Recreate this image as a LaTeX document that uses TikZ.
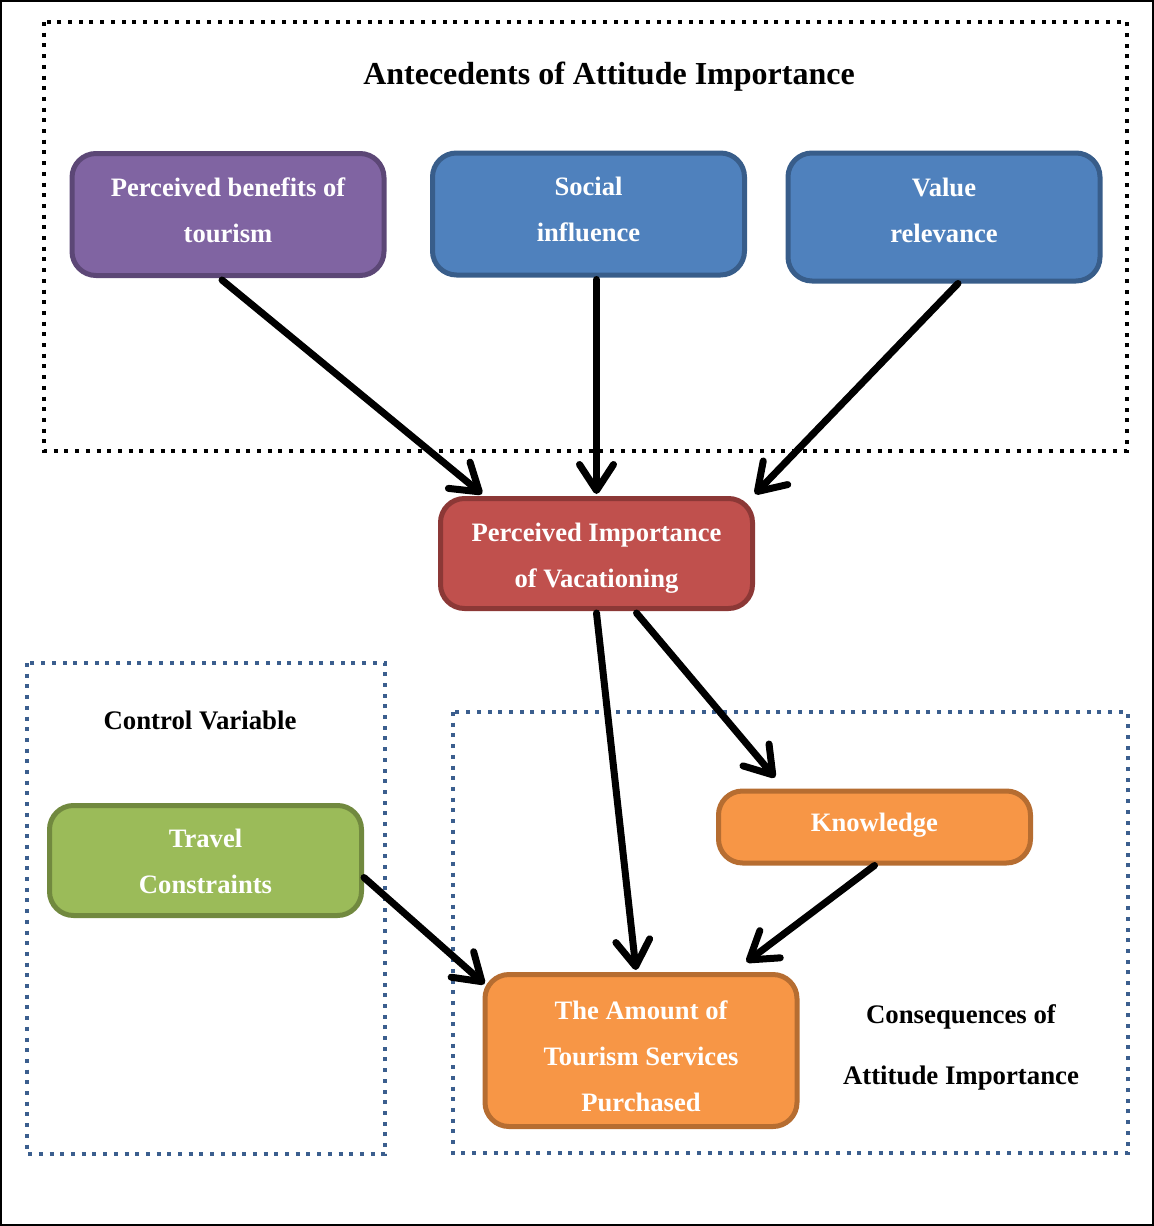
\documentclass[tikz,border=0pt]{standalone}
\usepackage{fontspec}
\setmainfont{Liberation Serif}
\usetikzlibrary{arrows.meta,calc}
\definecolor{purpfill}{HTML}{8064A2}\definecolor{purpline}{HTML}{5C4776}
\definecolor{bluefill}{HTML}{4F81BD}\definecolor{blueline}{HTML}{385D8A}
\definecolor{redfill}{HTML}{C0504D}\definecolor{redline}{HTML}{8C3836}
\definecolor{greenfill}{HTML}{9BBB59}\definecolor{greenline}{HTML}{71893F}
\definecolor{orangefill}{HTML}{F79646}\definecolor{orangeline}{HTML}{B66D31}
\definecolor{groupblue}{HTML}{3B5E8E}
% centred block of lines, raised by #1 inside its box
\newcommand\boxlines[2]{\raisebox{#1}[\height][\depth]{\begin{tabular}{@{}c@{}}#2\end{tabular}}}
\begin{document}
\begin{tikzpicture}[x=0.5pt,y=-0.5pt,
  box/.style={draw,line width=2.5pt,rounded corners=12pt,minimum width=156pt,
    text=white,font=\fontsize{13.3}{23}\selectfont\bfseries,inner sep=0pt},
  group/.style={line width=2pt,dash pattern=on 2pt off 3.35pt},
  label/.style={align=center,font=\fontsize{13.4}{30.5}\selectfont\bfseries},
  link/.style={line width=3.5pt,line cap=round,
    -{Straight Barb[length=13pt,width=17pt,line cap=round,line join=round]}}]
\useasboundingbox (0,0) rectangle (1154,1226);
\draw[line width=1.2pt] (1,1) rectangle (1153,1225);
% grouping frames
\draw[group,black] (44,22) rectangle (1127,451);
\draw[group,groupblue] (27,663) rectangle (385,1154);
\draw[group,groupblue] (453,712) rectangle (1128,1153);
% group labels
\node[label,font=\fontsize{16}{20}\selectfont\bfseries] (tAnte) at (609,77) {Antecedents of Attitude Importance};
\node[label] (tCtrl) at (200,720) {Control Variable};
\node[label] (tCons) at (961,1047) {Consequences of\\Attitude Importance};
% concept boxes
\node[box,fill=purpfill,draw=purpline,minimum height=61pt] (pb) at (228,214.5) {\boxlines{2pt}{Perceived benefits of\\tourism}};
\node[box,fill=bluefill,draw=blueline,minimum height=61pt] (si) at (588.5,214) {\boxlines{2.4pt}{Social\\influence}};
\node[box,fill=bluefill,draw=blueline,minimum height=64pt] (vr) at (944,217) {\boxlines{3.2pt}{Value\\relevance}};
\node[box,fill=redfill,draw=redline,minimum height=55pt] (pi) at (596.5,553.5) {\boxlines{-0.7pt}{Perceived Importance\\of Vacationing}};
\node[box,fill=greenfill,draw=greenline,minimum height=55pt] (tc) at (205.5,860.5) {\boxlines{-0.4pt}{Travel\\Constraints}};
\node[box,fill=orangefill,draw=orangeline,minimum height=36pt] (kn) at (874.5,827) {\boxlines{2.5pt}{Knowledge}};
\node[box,fill=orangefill,draw=orangeline,minimum height=76pt] (am) at (641,1050.5) {\boxlines{-3pt}{The Amount of\\Tourism Services\\Purchased}};
% relations
\draw[link] ($(pb.south)+(-6,2)$) -- ($(pi.north west)+(44,-2)$);
\draw[link] ($(si.south -| pi.north)+(0,2)$) -- ($(pi.north)+(0,-2)$);
\draw[link] ($(vr.south)+(14,0)$) -- ($(pi.north east)+(0,-2)$);
\draw[link] ($(pi.south)+(0,2)$) -- ($(am.north)+(-5,-2)$);
\draw[link] ($(pi.south)+(40,2)$) -- ($(kn.north west)+(59,-11)$);
\draw[link] (kn.south) -- ($(am.north east)+(-53,-10)$);
\draw[link] ($(tc.east)+(0,17)$) -- ($(am.north west)+(2,12)$);
\end{tikzpicture}
\end{document}
